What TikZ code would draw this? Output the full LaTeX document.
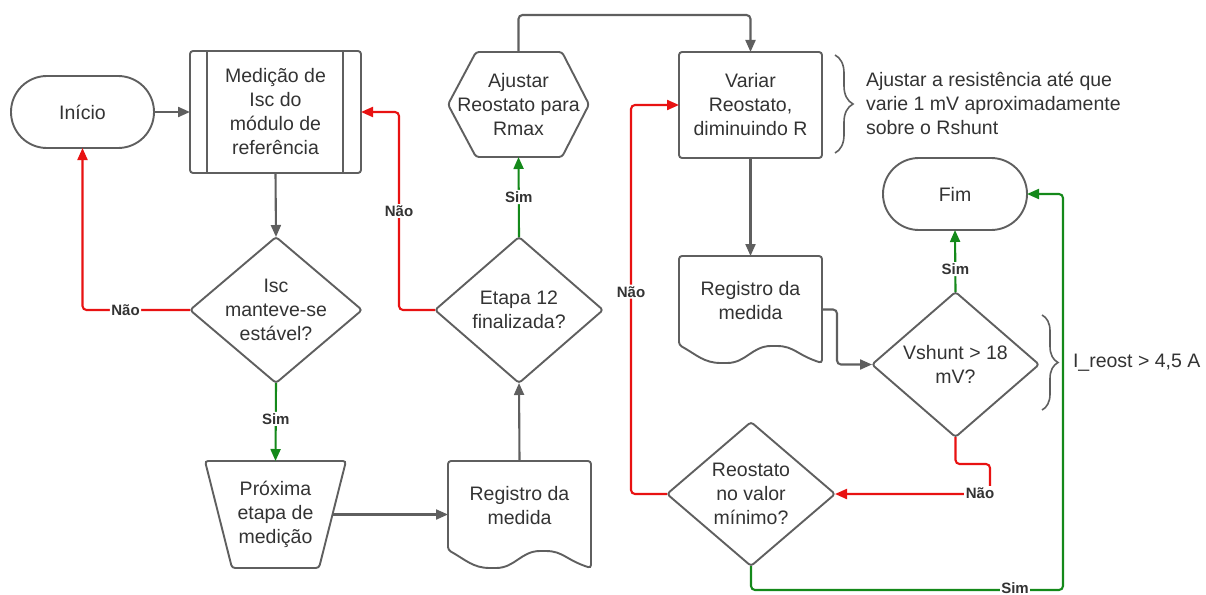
\documentclass[tikz,border=0pt]{standalone}
\usepackage{fontspec}
\setmainfont{Liberation Sans}
\usetikzlibrary{arrows.meta,calc,decorations.pathreplacing}
\definecolor{ln}{HTML}{5F5F5F}
\definecolor{tx}{HTML}{333333}
\definecolor{rd}{HTML}{E81212}
\definecolor{gn}{HTML}{14891A}
\newcommand\nf{\fontsize{19.5}{24}\selectfont}
\newcommand\lf{\fontsize{15}{18}\selectfont\bfseries}
\begin{document}
\begin{tikzpicture}[x=1pt,y=-1pt,
  box/.style={inner sep=0pt, outer sep=0pt, align=center, font=\nf, text=tx},
  shp/.style={draw=ln, line width=1.9pt, rounded corners=3pt},
  con/.style={draw=ln, line width=2.1pt, rounded corners=4pt, -{Triangle[length=12pt,width=10pt]}},
  conr/.style={con, draw=rd, -{Triangle[length=12pt,width=10pt,fill=rd]}},
  cong/.style={con, draw=gn, -{Triangle[length=12pt,width=10pt,fill=gn]}},
  lbl/.style={fill=white, inner sep=1.5pt, font=\lf, text=tx},
  brc/.style={draw=ln, line width=1.6pt, decorate, decoration={brace, amplitude=#1}}
]
\useasboundingbox (0,0) rectangle (1206,594);

% ---- nodes ----
\node[box,shp,rounded corners=35.9pt,minimum width=143pt,minimum height=72pt] (inicio) at (82.5,112) {Início};

\node[box,shp,minimum width=171pt,minimum height=122pt] (medicao) at (275.5,112) {Medição de\\Isc do\\módulo de\\referência};
\draw[shp] ($(medicao.north west)+(17,0)$) -- ($(medicao.south west)+(17,0)$);
\draw[shp] ($(medicao.north east)+(-18,0)$) -- ($(medicao.south east)+(-18,0)$);

\node[box,minimum width=172pt,minimum height=146pt] (isc) at (276,310) {Isc\\manteve-se\\estável?};
\draw[shp] (isc.north) -- (isc.east) -- (isc.south) -- (isc.west) -- cycle;

\node[box,minimum width=141pt,minimum height=107pt] (proxima) at (275.5,514.5) {Próxima\\etapa de\\medição};
\draw[shp] (proxima.north west) -- (proxima.north east) -- ($(proxima.south east)+(-27,0)$) -- ($(proxima.south west)+(27,0)$) -- cycle;

\node[box,minimum width=143pt,minimum height=89pt] (reg1) at (519.5,505.5) {Registro da\\medida};
\draw[shp] (reg1.north west) -- (reg1.north east) -- ($(reg1.south east)+(0,18)$)
  .. controls +(-25,-8) and +(20,0) .. ($(reg1.south west)+(95,1)$)
  .. controls +(-22,0) and +(22,0) .. ($(reg1.south west)+(45,18)$)
  .. controls +(-20,0) and +(18,10) .. (reg1.south west) -- cycle;

\node[box,minimum width=168pt,minimum height=146pt] (etapa) at (519,310) {Etapa 12\\finalizada?};
\draw[shp] (etapa.north) -- (etapa.east) -- (etapa.south) -- (etapa.west) -- cycle;

\node[box,minimum width=141pt,minimum height=105pt] (ajustar) at (518.5,104.5) {Ajustar\\Reostato para\\Rmax};
\draw[shp] (ajustar.west) -- ($(ajustar.north west)+(28,0)$) -- ($(ajustar.north east)+(-27,0)$) -- (ajustar.east)
  -- ($(ajustar.south east)+(-27,0)$) -- ($(ajustar.south west)+(28,0)$) -- cycle;

\node[box,shp,minimum width=143pt,minimum height=106pt] (variar) at (750.5,105) {Variar\\Reostato,\\diminuindo R};

\node[box,minimum width=143pt,minimum height=89pt] (reg2) at (750.5,300.5) {Registro da\\medida};
\draw[shp] (reg2.north west) -- (reg2.north east) -- ($(reg2.south east)+(0,18)$)
  .. controls +(-25,-8) and +(20,0) .. ($(reg2.south west)+(95,1)$)
  .. controls +(-22,0) and +(22,0) .. ($(reg2.south west)+(45,18)$)
  .. controls +(-20,0) and +(18,10) .. (reg2.south west) -- cycle;

\node[box,shp,rounded corners=35.9pt,minimum width=144pt,minimum height=72pt] (fim) at (955,194) {Fim};

\node[box,minimum width=167pt,minimum height=145pt] (vshunt) at (955.5,364.5) {Vshunt > 18\\mV?};
\draw[shp] (vshunt.north) -- (vshunt.east) -- (vshunt.south) -- (vshunt.west) -- cycle;

\node[box,minimum width=168pt,minimum height=144pt] (reost) at (751,494) {Reostato\\no valor\\mínimo?};
\draw[shp] (reost.north) -- (reost.east) -- (reost.south) -- (reost.west) -- cycle;

\node[box,align=left,anchor=west] (nota) at (866,103) {Ajustar a resistência até que\\varie 1 mV aproximadamente\\sobre o Rshunt};
\node[box,anchor=west] (ireost) at (1073,363) {I\_reost > 4,5 A};

% ---- braces ----
\draw[brc=18pt] (835,55) -- (835,153);
\draw[brc=16pt] (1042,315) -- (1042,410);

% ---- connectors ----
\draw[con] (inicio.east) -- (medicao.west);
\draw[con] (medicao.south) -- (isc.north);
\draw[conr] (isc.west) -| node[lbl,pos=0.3]{Não} (inicio.south);
\draw[cong] (isc.south) -- node[lbl,pos=0.46]{Sim} (proxima.north);
\draw[con] ($(proxima.east)+(-13,0)$) -- (reg1.west |- proxima.east);
\draw[con] (reg1.north) -- (etapa.south);
\draw[conr] (etapa.west) -- ++(-36,0) |- node[lbl,pos=0.25]{Não} (medicao.east);
\draw[cong] (etapa.north) -- node[lbl]{Sim} (ajustar.south);
\draw[con] (ajustar.north) -- ++(0,-37) -| (variar.north);
\draw[con] (variar.south) -- (reg2.north);
\draw[con] ($(reg2.east)+(0,9)$) -- ++(15,0) |- (vshunt.west);
\draw[cong] (vshunt.north) -- node[lbl,pos=0.37]{Sim} (fim.south);
\draw[conr] (vshunt.south) -- ++(0,27) -| ($(reost.east)+(155,0)$) -- (reost.east);
\node[lbl] (nao3) at (980,493) {Não};
\draw[conr] (reost.west) -- ++(-36,0) |- node[lbl,pos=0.26]{Não} (variar.west);
\draw[cong] (reost.south) |- ($(fim.east)+(36,396)$) |- (fim.east);
\node[lbl] (sim4) at (1015,588) {Sim};
\end{tikzpicture}
\end{document}
